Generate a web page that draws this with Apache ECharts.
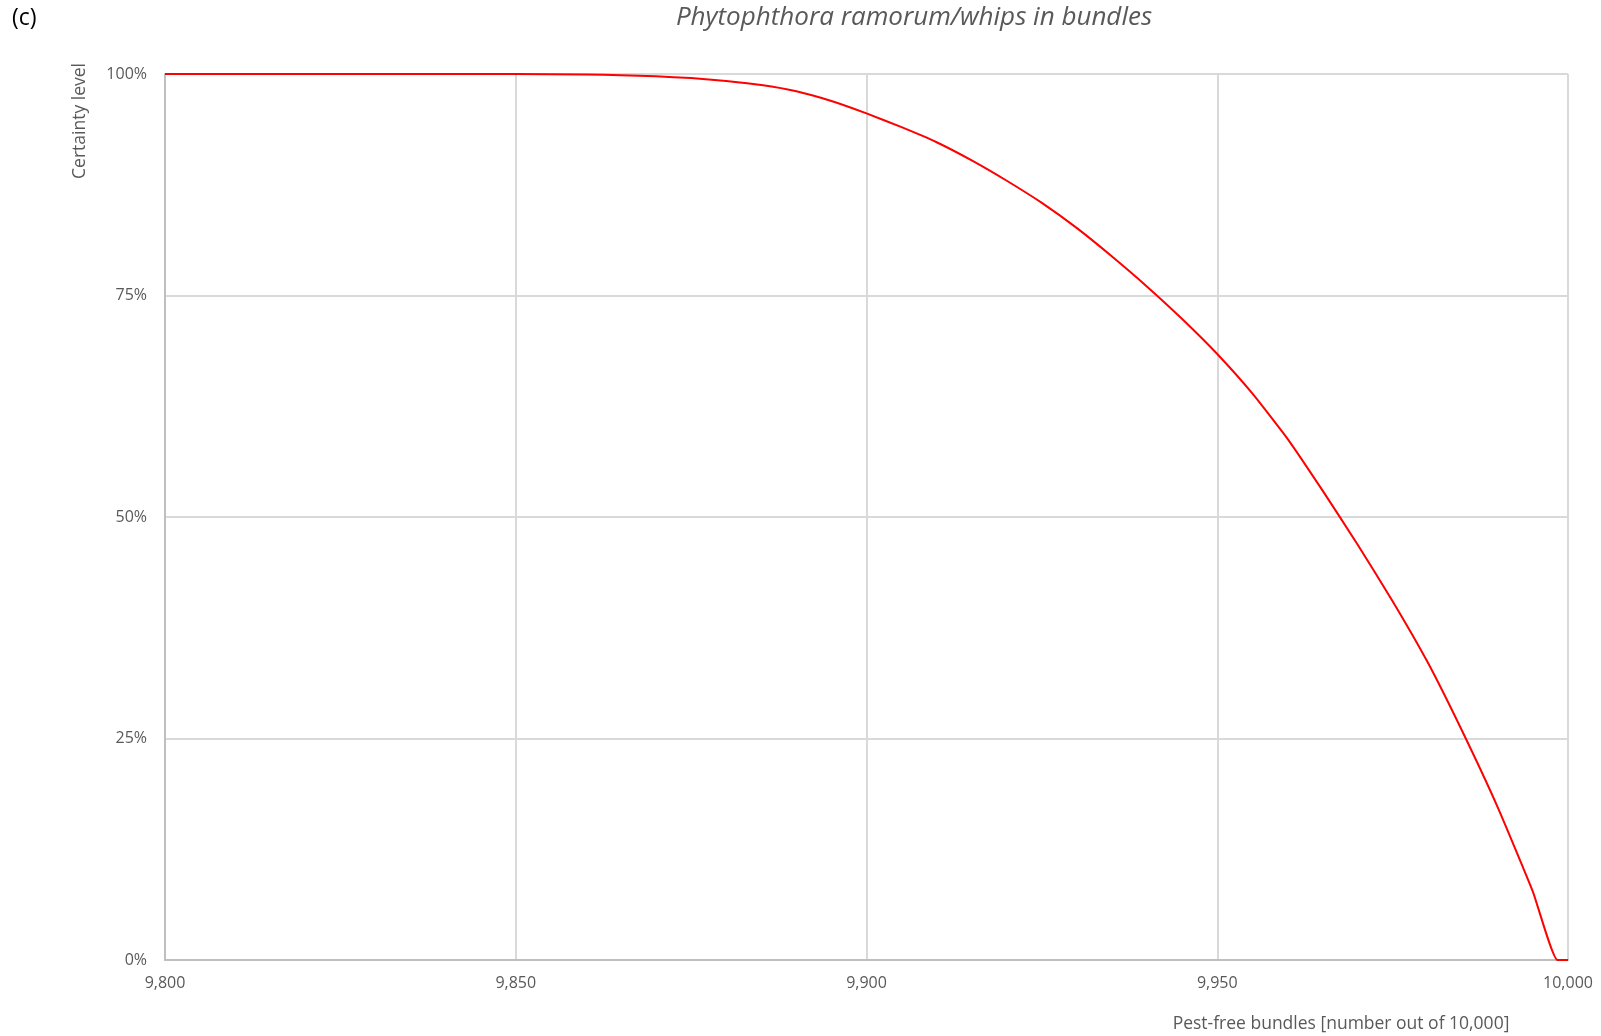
<!DOCTYPE html>
<html>
<head>
<meta charset="utf-8">
<script src="https://cdn.jsdelivr.net/npm/echarts@6/dist/echarts.min.js"></script>
<style>
html,body{margin:0;padding:0;background:#fff;}
#chart{width:1601px;height:1036px;}
</style>
</head>
<body>
<div id="chart"></div>
<script>
// Pest-free bundles (number out of 10,000)
var pestFree = [9800, 9850, 9860, 9865, 9870, 9875, 9880, 9885, 9890, 9895, 9900, 9905, 9910, 9915, 9920, 9925, 9930, 9935, 9940, 9945, 9950, 9955, 9960, 9965, 9970, 9975, 9980, 9985, 9990, 9995, 9998.5, 10000];
// Certainty level (%)
var certainty = [100, 100, 99.95, 99.87, 99.74, 99.54, 99.2, 98.75, 98.05, 96.95, 95.55, 94.0, 92.3, 90.25, 87.95, 85.45, 82.6, 79.4, 76.0, 72.35, 68.4, 63.95, 58.85, 53.0, 46.9, 40.5, 33.6, 25.7, 17.2, 7.7, 0, 0];
var xTicks = [9800, 9850, 9900, 9950, 10000];
var yTicks = [0, 25, 50, 75, 100];

var chartTitle = 'Phytophthora ramorum/whips in bundles';
var panelLabel = '(c)';
var xName = 'Pest-free bundles [number out of 10,000]';
var yName = 'Certainty level';

var points = pestFree.map(function (x, i) { return [x, certainty[i]]; });
var font = '"Open Sans", "Liberation Sans", sans-serif';
var grey = '#595959';

var chart = echarts.init(document.getElementById('chart'));
chart.setOption({
  animation: false,
  backgroundColor: '#ffffff',
  grid: { left: 165, right: 33, top: 74, bottom: 76, containLabel: false },
  xAxis: {
    type: 'value', min: xTicks[0], max: xTicks[xTicks.length - 1], interval: 50,
    axisLine: { show: true, lineStyle: { color: '#BFBFBF', width: 2 } },
    axisTick: { show: false },
    splitLine: { show: true, lineStyle: { color: '#D9D9D9', width: 2 } },
    axisLabel: {
      color: grey, fontFamily: font, fontSize: 16, margin: 15,
      formatter: function (v) { return v.toLocaleString('en-US'); }
    }
  },
  yAxis: {
    type: 'value', min: yTicks[0], max: yTicks[yTicks.length - 1], interval: 25,
    axisLine: { show: true, lineStyle: { color: '#BFBFBF', width: 2 } },
    axisTick: { show: false },
    splitLine: { show: true, lineStyle: { color: '#D9D9D9', width: 2 } },
    axisLabel: { color: grey, fontFamily: font, fontSize: 16, margin: 18, formatter: '{value}%' }
  },
  series: [{
    type: 'line', data: points, showSymbol: false, smooth: 0.15,
    lineStyle: { color: '#FF0000', width: 2 }, z: 5
  }],
  graphic: [
    { type: 'text', left: 12, top: 7, style: { text: panelLabel, font: '23px ' + font, fill: '#000000' } },
    { type: 'text', x: 914, y: 18, style: { text: chartTitle, font: 'italic 26px ' + font, fill: grey, textAlign: 'center', textVerticalAlign: 'middle' } },
    { type: 'text', x: 80, y: 121, rotation: Math.PI / 2, style: { text: yName, font: '17.5px ' + font, fill: grey, textAlign: 'center', textVerticalAlign: 'middle' } },
    { type: 'text', x: 1341, y: 1024, style: { text: xName, font: '17.5px ' + font, fill: grey, textAlign: 'center', textVerticalAlign: 'middle' } }
  ]
});
</script>
</body>
</html>
